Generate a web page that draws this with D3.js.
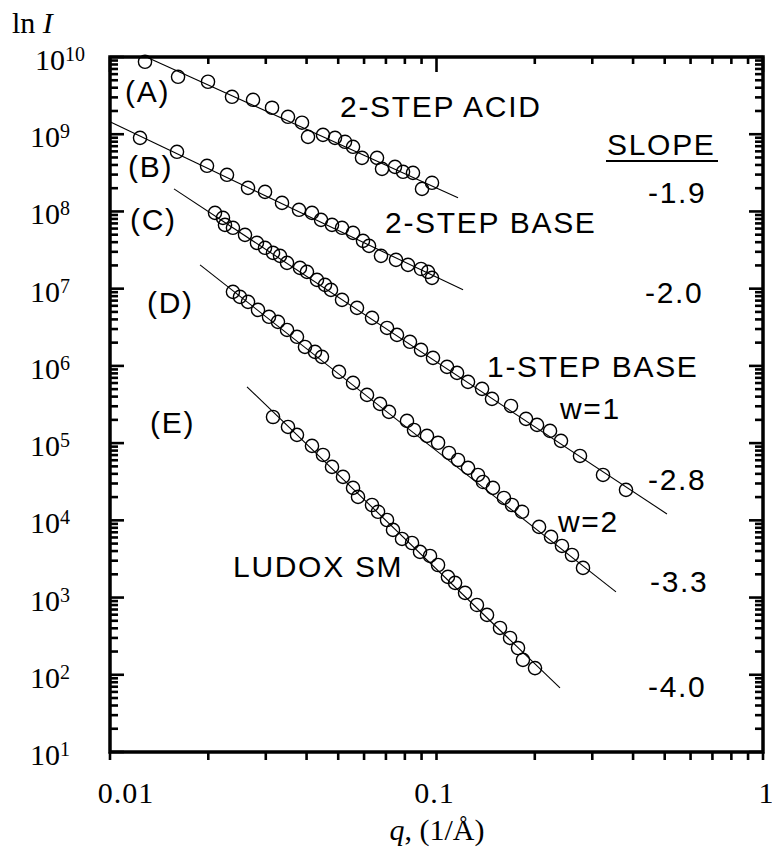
<!DOCTYPE html>
<html>
<head>
<meta charset="utf-8">
<script src="https://cdn.jsdelivr.net/npm/d3@7"></script>
<style>
  html, body { margin: 0; padding: 0; background: #fff; }
  svg { display: block; }
  .serif { font-family: "Liberation Serif", "DejaVu Serif", serif; fill: #000; }
  .sans { font-family: "Liberation Sans", Arial, sans-serif; fill: #000; letter-spacing: 1.7px; }
</style>
</head>
<body>
<div id="chart"></div>
<script>
// ---------------- DATA ----------------
// Series A: 2-STEP ACID
const qA = [0.0128,0.01616,0.01996,0.02364,0.02742,0.03135,0.03509,0.03873,0.04041,0.04491,0.04888,0.05246,0.05551,0.05913,0.06574,0.0681,0.07463,0.07898,0.08472,0.09029,0.09688];
const IA = [8.67e9,5.54e9,4.78e9,3.05e9,2.79e9,2.2e9,1.68e9,1.41e9,9.25e8,9.82e8,8.98e8,7.98e8,6.87e8,4.94e8,4.94e8,3.56e8,3.78e8,3.26e8,3.16e8,1.96e8,2.35e8];
// Series B: 2-STEP BASE
const qB = [0.01236,0.01604,0.01982,0.02282,0.02647,0.02984,0.03364,0.03792,0.04156,0.04429,0.04786,0.05136,0.05551,0.05955,0.06214,0.06761,0.07516,0.08179,0.08966,0.09419,0.09688];
const IB = [8.98e8,5.92e8,3.9e8,2.98e8,2.02e8,1.79e8,1.29e8,1.05e8,9.59e7,7.78e7,6.7e7,6.14e7,5.28e7,4.16e7,3.58e7,2.66e7,2.36e7,2.03e7,1.8e7,1.65e7,1.38e7];
// Series C: 1-STEP BASE, w=1
const qC = [0.02097,0.02218,0.0225,0.0238,0.02591,0.02819,0.02984,0.03157,0.03317,0.03485,0.03818,0.04011,0.04305,0.04555,0.04752,0.05136,0.05708,0.06346,0.07054,0.07568,0.08294,0.08966,0.09757,0.1077,0.1156,0.1249,0.1379,0.1479,0.1691,0.188,0.2032,0.2227,0.2406,0.2751,0.3236,0.3805];
const IC = [9.59e7,8.26e7,6.7e7,6.14e7,4.98e7,3.92e7,3.38e7,2.91e7,2.66e7,2.16e7,1.86e7,1.65e7,1.3e7,1.12e7,9.64e6,7.16e6,5.64e6,4.19e6,3.1e6,2.52e6,2.05e6,1.61e6,1.27e6,9.71e5,8.11e5,6.21e5,5.04e5,3.74e5,3.03e5,2.06e5,1.72e5,1.44e5,1.07e5,6.82e4,3.87e4,2.48e4];
// Series D: 1-STEP BASE, w=2
const qD = [0.0238,0.02501,0.02647,0.0284,0.03069,0.03269,0.03485,0.03738,0.03955,0.04245,0.04459,0.05028,0.05551,0.06126,0.06714,0.07153,0.08121,0.08533,0.09352,0.1011,0.1092,0.1164,0.1249,0.134,0.1388,0.1489,0.1609,0.1703,0.1828,0.2061,0.2243,0.2423,0.26,0.281];
const ID = [9.1e6,7.83e6,6.75e6,5.31e6,4.32e6,3.72e6,2.92e6,2.38e6,1.76e6,1.52e6,1.31e6,8.36e5,6.03e5,4.21e5,3.22e5,2.54e5,1.94e5,1.48e5,1.24e5,1.01e5,7.46e4,6.05e4,4.78e4,3.87e4,3.14e4,2.63e4,1.95e4,1.58e4,1.29e4,8.22e3,6.1e3,4.66e3,3.56e3,2.42e3];
// Series E: LUDOX SM
const qE = [0.03157,0.03509,0.03738,0.04156,0.04491,0.04786,0.05172,0.05551,0.0575,0.06346,0.06621,0.07054,0.07359,0.07842,0.08414,0.08903,0.09553,0.1011,0.1084,0.114,0.1223,0.133,0.1428,0.1565,0.168,0.1777,0.184,0.2003];
const IE = [2.18e5,1.62e5,1.28e5,9.2e4,7.03e4,4.92e4,3.65e4,2.63e4,2.01e4,1.58e4,1.29e4,1.01e4,7.52e3,5.74e3,5.09e3,3.9e3,3.46e3,2.64e3,1.85e3,1.55e3,1.15e3,802,596,404,300,222,156,122];
// Power-law fit lines (end points)
const fitQA = [0.01307, 0.1164], fitIA = [9.78e9, 1.5e8];
const fitQB = [0.01, 0.1206],   fitIB = [1.45e9, 9.65e6];
const fitQC = [0.0157, 0.508],  fitIC = [1.96e8, 1.21e4];
const fitQD = [0.01887, 0.3546], fitID = [2.03e7, 1183];
const fitQE = [0.02628, 0.2389], fitIE = [5.35e5, 67.5];
// Axis ticks
const xTickValues = [0.01, 0.1, 1];
const xTickLabels = ["0.01", "0.1", "1"];
const yTickExponents = [1,2,3,4,5,6,7,8,9,10];
// Labels
const seriesLetters = ["(A)", "(B)", "(C)", "(D)", "(E)"];
const sampleNames = ["2-STEP ACID", "2-STEP BASE", "1-STEP BASE", "w=1", "w=2", "LUDOX SM"];
const slopeValues = ["-1.9", "-2.0", "-2.8", "-3.3", "-4.0"];

// ---------------- LAYOUT ----------------
const W = 772, H = 854;
const L = 110, R = 763, T = 57, B = 752;

const svg = d3.select("#chart").append("svg").attr("width", W).attr("height", H);
const x = d3.scaleLog().domain([0.01, 1]).range([L, R]);
const y = d3.scaleLog().domain([10, 1e10]).range([B, T]);

// fit lines
const line = d3.line().x(d => x(d[0])).y(d => y(d[1]));
const fits = [[fitQA, fitIA], [fitQB, fitIB], [fitQC, fitIC], [fitQD, fitID], [fitQE, fitIE]];
fits.forEach(([qs, Is]) => {
  svg.append("path").datum(qs.map((q, i) => [q, Is[i]]))
    .attr("d", line).attr("fill", "none").attr("stroke", "#000").attr("stroke-width", 1.1);
});

// data points
const series = [[qA, IA], [qB, IB], [qC, IC], [qD, ID], [qE, IE]];
series.forEach(([qs, Is]) => {
  svg.append("g").selectAll("circle").data(qs.map((q, i) => [q, Is[i]])).join("circle")
    .attr("cx", d => x(d[0])).attr("cy", d => y(d[1])).attr("r", 6.6)
    .attr("fill", "none").attr("stroke", "#000").attr("stroke-width", 1.4);
});

// ticks
const ax = svg.append("g").attr("stroke", "#000").attr("stroke-width", 2.6);
const yTicks = [];
for (let e = 1; e <= 10; e++) {
  yTicks.push({v: Math.pow(10, e), major: true});
  if (e < 10) for (let m = 2; m <= 9; m++) yTicks.push({v: m * Math.pow(10, e), major: false});
}
yTicks.forEach(t => {
  const yy = y(t.v), len = t.major ? 14 : 8;
  ax.append("line").attr("x1", L).attr("x2", L + len).attr("y1", yy).attr("y2", yy);
  ax.append("line").attr("x1", R).attr("x2", R - len).attr("y1", yy).attr("y2", yy);
});
const xTicks = [];
for (let e = -2; e <= 0; e++) {
  xTicks.push({v: Math.pow(10, e), major: true});
  if (e < 0) for (let m = 2; m <= 9; m++) xTicks.push({v: m * Math.pow(10, e), major: false});
}
xTicks.forEach(t => {
  const xx = x(t.v);
  ax.append("line").attr("x1", xx).attr("x2", xx).attr("y1", T).attr("y2", T + (t.major ? 15 : 7));
  ax.append("line").attr("x1", xx).attr("x2", xx).attr("y1", B).attr("y2", B + 8);
});

// frame
svg.append("rect").attr("x", L).attr("y", T).attr("width", R - L).attr("height", B - T)
  .attr("fill", "none").attr("stroke", "#000").attr("stroke-width", 3.5);

// y tick labels
yTickExponents.forEach(e => {
  const yy = y(Math.pow(10, e));
  const t = svg.append("text").attr("class", "serif")
    .attr("x", e >= 10 ? 35 : 30).attr("y", yy + 13).attr("font-size", 30);
  t.append("tspan").text("10");
  t.append("tspan").attr("font-size", 20).attr("dy", -9).text(String(e));
});
// x tick labels
const xLabelShift = [16, -2, 3];
const xLabelSpacing = [1, 1, 0];
xTickValues.forEach((v, i) => {
  svg.append("text").attr("class", "serif").attr("x", x(v) + xLabelShift[i]).attr("y", 803)
    .attr("text-anchor", "middle").attr("font-size", 30).attr("letter-spacing", xLabelSpacing[i]).text(xTickLabels[i]);
});

// axis titles
const yt = svg.append("text").attr("class", "serif").attr("x", 12).attr("y", 33).attr("font-size", 30);
yt.append("tspan").text("ln ");
yt.append("tspan").attr("font-style", "italic").text("I");
const xt = svg.append("text").attr("class", "serif").attr("x", 437).attr("y", 840)
  .attr("text-anchor", "middle").attr("font-size", 30);
xt.append("tspan").attr("font-style", "italic").text("q");
xt.append("tspan").text(", (1/Å)");

// annotations
function ann(txt, xx, yy) {
  return svg.append("text").attr("class", "sans").attr("x", xx).attr("y", yy).attr("font-size", 30).text(txt);
}
const letterPos = [[125, 102], [128, 177], [130, 230], [147, 313], [150, 433]];
seriesLetters.forEach((s, i) => ann(s, letterPos[i][0], letterPos[i][1]));
const namePos = [[340, 117], [385, 233], [487, 377], [560, 419], [558, 532], [233, 577]];
sampleNames.forEach((s, i) => ann(s, namePos[i][0], namePos[i][1]));
ann("SLOPE", 607, 155);
svg.append("line").attr("x1", 606).attr("x2", 718).attr("y1", 161).attr("y2", 161)
  .attr("stroke", "#000").attr("stroke-width", 2);
const slopePos = [[648, 203], [645, 303], [648, 490], [650, 592], [648, 697]];
slopeValues.forEach((s, i) => ann(s, slopePos[i][0], slopePos[i][1]));
</script>
</body>
</html>
